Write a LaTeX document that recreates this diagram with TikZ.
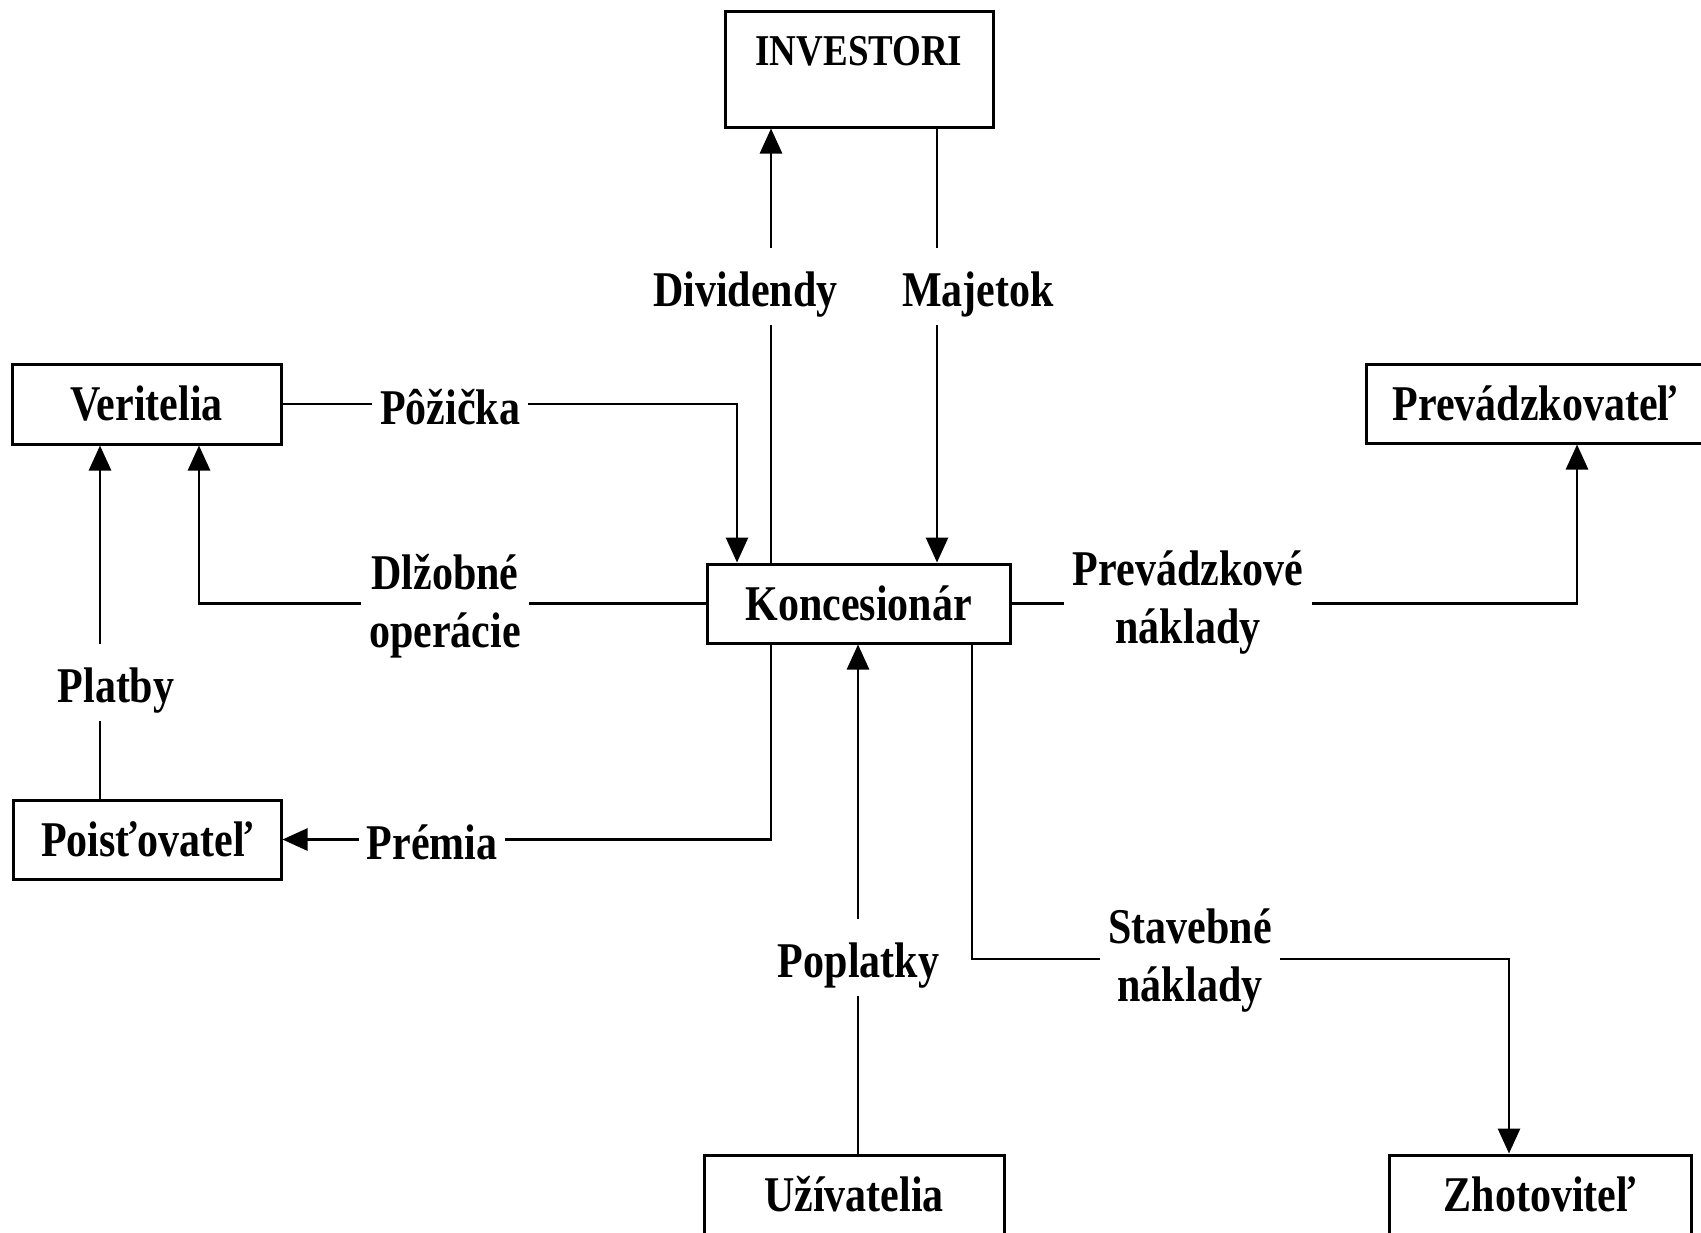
\documentclass[tikz,border=0pt]{standalone}
\usepackage{fontspec}
\setmainfont{Liberation Serif}[FakeStretch=0.84]
\usetikzlibrary{arrows.meta}
\begin{document}
\begin{tikzpicture}[x=0.5pt,y=-0.5pt,
  txt/.style={font=\fontsize{25}{29}\selectfont\bfseries},
  box/.style={txt, draw, line width=1.5pt, inner sep=0pt, align=center},
  flow/.style={line width=1.4pt},
  arr/.style={flow, -{Triangle[length=12.5pt,width=11pt]}},
  lab/.style={txt, fill=white, inner xsep=4pt, inner ysep=0pt, align=center},
  vlab/.style={lab, text height=29pt, text depth=9.5pt}
]
\useasboundingbox (0,0) rectangle (1701,1232);
\clip (0,0) rectangle (1701,1232);

% parties
\node[box, minimum width=134pt, minimum height=58pt,
      font=\fontsize{22}{26}\selectfont\bfseries,
      text height=18pt, text depth=22pt] (inv) at (859,69) {INVESTORI};
\node[box, minimum width=134.5pt, minimum height=40pt] (ver) at (146.5,404) {Veritelia};
\node[box, minimum width=151.5pt, minimum height=39.5pt] (kon) at (858.5,603.5) {Koncesionár};
\node[box, minimum width=169pt, minimum height=39.5pt] (prev) at (1535,403.5) {Prevádzkovateľ};
\node[box, minimum width=134pt, minimum height=39.5pt] (poi) at (147,839.5) {Poisťovateľ};
\node[box, minimum width=150pt, minimum height=39.5pt] (uzi) at (854,1194.5) {Užívatelia};
\node[box, minimum width=151pt, minimum height=39.5pt] (zho) at (1540,1194.5) {Zhotoviteľ};

% columns and rows used by the connectors
\coordinate (xdiv) at (771,0);
\coordinate (xmaj) at (937,0);
\coordinate (xpoz) at (737,0);
\coordinate (xdlz) at (199,0);
\coordinate (xpl)  at (100,0);
\coordinate (xpop) at (858,0);
\coordinate (xst)  at (972,0);
\coordinate (xprv) at (1577,0);
\coordinate (stc)  at (1509,959);

% money flows
\draw[arr] (kon.north -| xdiv) -- (inv.south -| xdiv);
\draw[arr] (inv.south -| xmaj) -- (kon.north -| xmaj);
\draw[arr] (ver.east) -| (kon.north -| xpoz);
\draw[arr] (kon.west) -| (ver.south -| xdlz);
\draw[arr] (poi.north -| xpl) -- (ver.south -| xpl);
\draw[arr] (kon.south -| xst) |- (stc) -- (zho.north -| stc);
\draw[arr] (kon.south -| xdiv) |- (poi.east);
\draw[arr] (uzi.north -| xpop) -- (kon.south -| xpop);
\draw[arr] (kon.east) -| (prev.south -| xprv);

% flow labels (centred two-line labels sit on the baseline of their last line,
% the fixed-width one on the baseline of its first line)
\node[vlab, anchor=base] (ldiv) at (745.5,306) {Dividendy};
\node[vlab, anchor=base] (lmaj) at (978,306) {Majetok};
\node[vlab, anchor=base] (lpl)  at (116,702) {Platby};
\node[vlab, anchor=base] (lpop) at (858.5,977) {Poplatky};
\node[lab, anchor=base] (lpoz) at (450,424) {Pôžička};
\node[lab, anchor=base] (lprm) at (432,859) {Prémia};
\node[lab, anchor=base] (ldlz) at (445,647) {Dlžobné\\operácie};
\node[lab, anchor=base, text width=120pt, inner xsep=2pt] (lprv) at (1188,585) {Prevádzkové\\náklady};
\node[lab, anchor=base] (lst)  at (1190,1001) {Stavebné\\náklady};
\end{tikzpicture}
\end{document}
